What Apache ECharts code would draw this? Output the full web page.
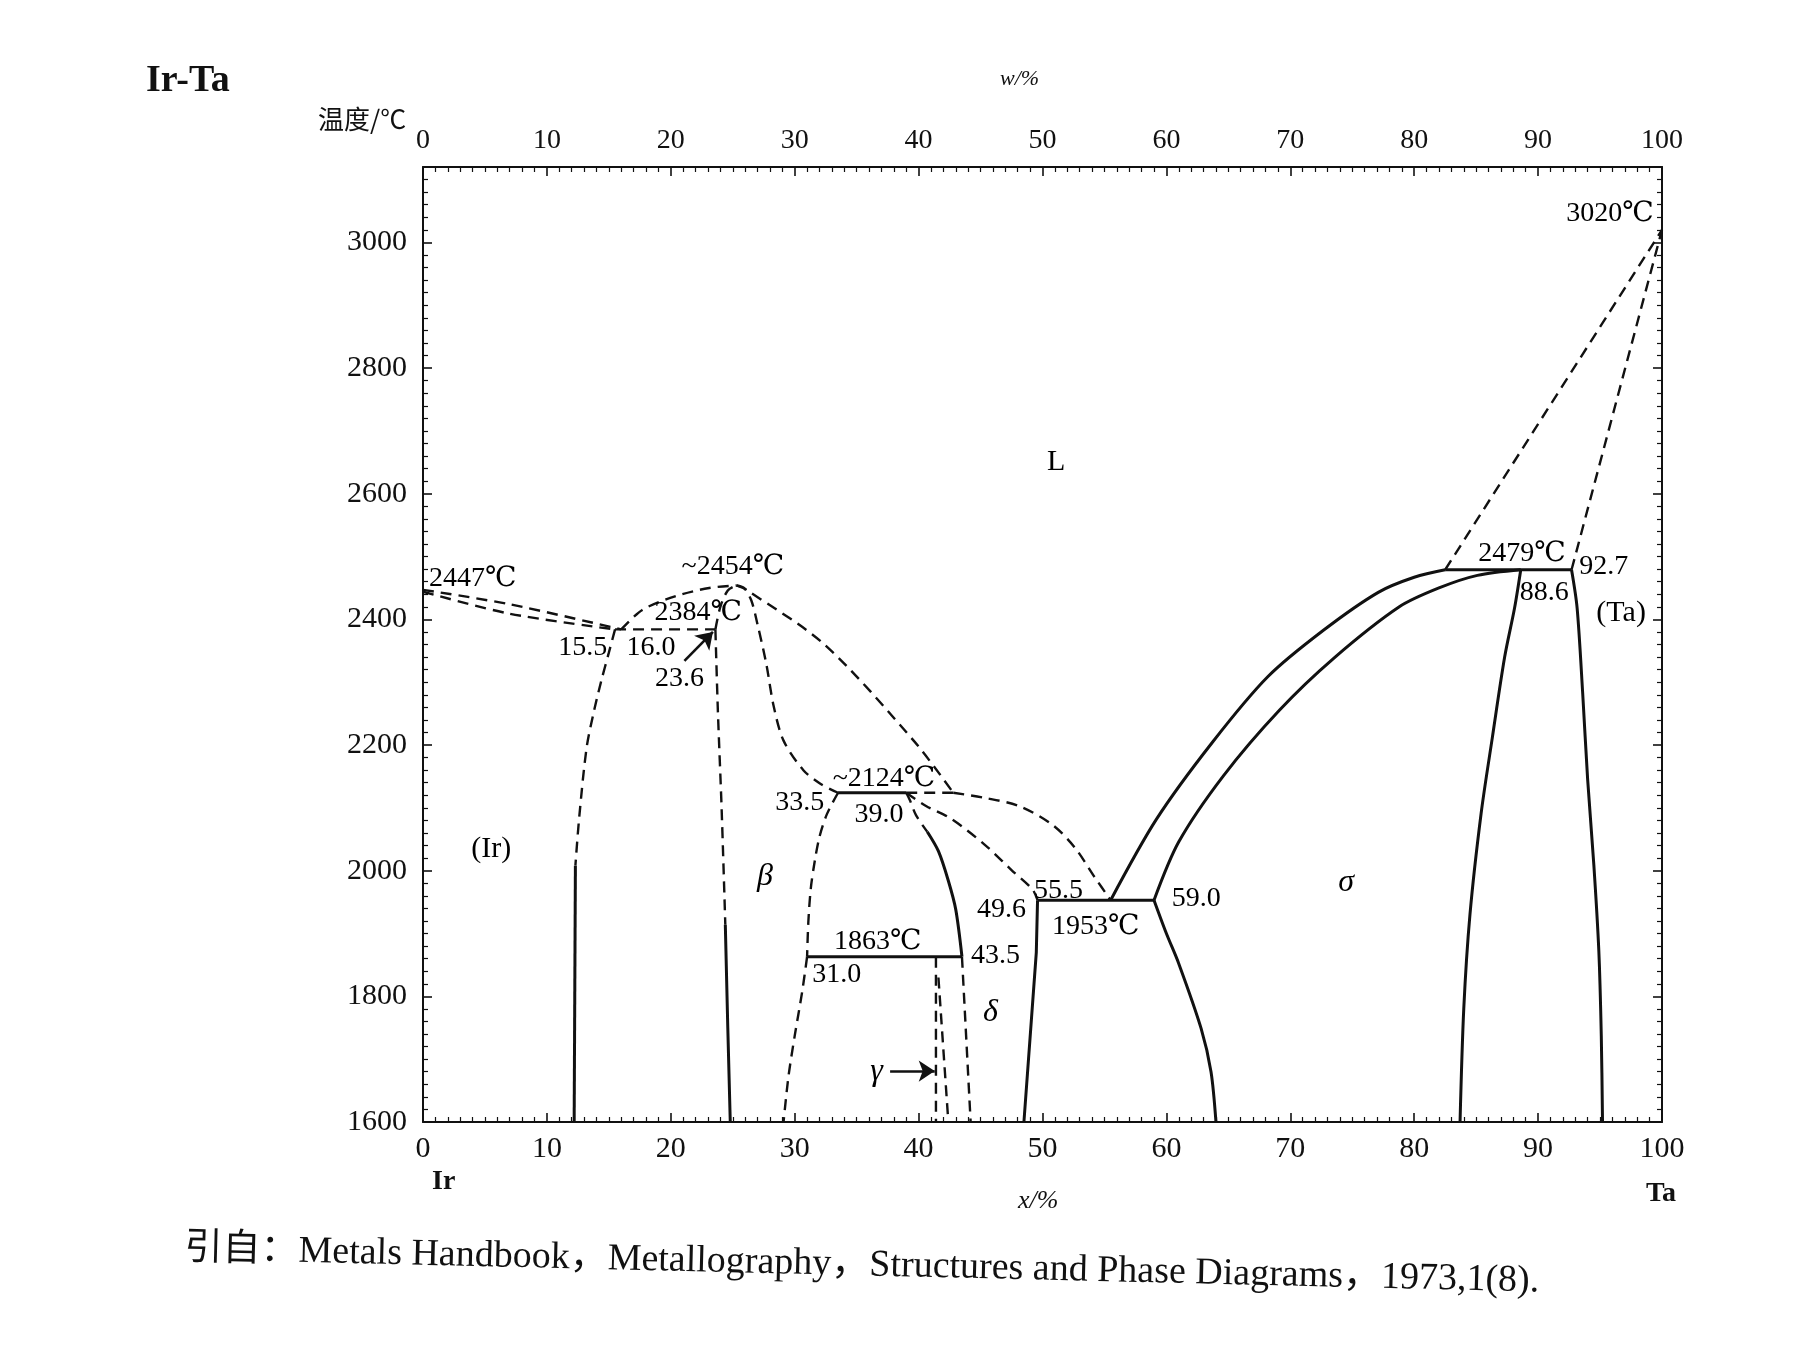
<!DOCTYPE html>
<html><head><meta charset="utf-8">
<script src="https://cdn.jsdelivr.net/npm/echarts@6/dist/echarts.min.js"></script>
<style>html,body{margin:0;padding:0;background:#fff}#c{width:1795px;height:1346px}</style>
</head><body><div id="c"></div>
<script>
// ---- axes / ticks ----
const xTicks = [0,10,20,30,40,50,60,70,80,90,100];      // x/% (atomic, bottom)
const wTicks = [0,10,20,30,40,50,60,70,80,90,100];      // w/% (top)
const tTicks = [1600,1800,2000,2200,2400,2600,2800,3000]; // temperature
const tMax = 3120;

// ---- phase boundaries (x/%, T/℃) ----
const liqIr        = [[0,2447],[7,2424],[16.0,2384]];
const solIr        = [[0,2444],[7,2409],[15.5,2384]];
const eut2384      = [[15.5,2384],[23.6,2384]];
const liqEutBeta   = [[16.0,2384],[17.7,2415],[20.4,2437],[23.1,2450],[25.3,2454]];
const solBetaLeft  = [[23.6,2384],[24.0,2420],[24.6,2446],[25.3,2454]];
const solBetaRight = [[25.3,2454],[25.9,2450],[26.5,2430],[27.0,2392],[27.7,2330],[28.3,2262],[29.1,2207],[30.7,2160],[32.1,2138],[33.5,2124]];
const liqBetaRight = [[25.3,2454],[26.1,2447],[32.4,2360],[39.6,2207],[42.8,2124]];
const irSolvusDash = [[15.5,2384],[15.0,2347],[14.4,2303],[13.8,2254],[13.2,2195],[12.6,2083],[12.3,2008]];
const irSolvusSol  = [[12.3,2008],[12.2,1600]];
const betaLeftDash = [[23.6,2384],[23.8,2254],[24.1,2100],[24.4,1914]];
const betaLeftSol  = [[24.4,1914],[24.6,1750],[24.8,1600]];
const per2124Sol   = [[33.5,2124],[39.0,2124]];
const per2124Dash  = [[39.0,2124],[42.8,2124]];
const liqTo1953    = [[42.8,2124],[45.3,2116],[48.1,2103],[50.8,2073],[52.6,2037],[54.2,1990],[55.5,1953]];
const deltaSolidus = [[39.0,2124],[40.6,2103],[42.6,2083],[45.3,2042],[47.5,2001],[49.2,1970],[49.6,1953]];
const deltaLeftDash= [[39.0,2124],[39.3,2112],[39.8,2088],[40.7,2062]];
const deltaLeftSol = [[40.7,2062],[41.6,2031],[42.4,1984],[43.0,1938],[43.5,1863]];
const deltaLeftLow = [[43.5,1863],[44.2,1600]];
const betaRightHi  = [[33.5,2124],[32.6,2090],[32.0,2054],[31.6,2013],[31.3,1972],[31.1,1918],[31.0,1863]];
const betaRightLow = [[31.0,1863],[30.6,1807],[30.0,1737],[29.5,1673],[29.1,1600]];
const eut1863      = [[31.0,1863],[43.5,1863]];
const gammaLeft    = [[41.4,1863],[41.4,1600]];
const gammaRight   = [[41.6,1830],[42.4,1600]];
const deltaRight   = [[49.6,1953],[49.5,1870],[48.5,1600]];
const eut1953      = [[49.6,1953],[59.0,1953]];
const sigmaLeftLow = [[59.0,1953],[60.0,1900],[61.0,1852],[62.8,1749],[63.6,1680],[64.0,1600]];
const sigmaLiq     = [[55.5,1953],[59.2,2082],[63.7,2204],[68.2,2309],[72.7,2383],[77.1,2443],[80.0,2467],[82.5,2479]];
const sigmaSol     = [[59.0,1953],[61.0,2046],[64.6,2151],[69.1,2255],[73.5,2338],[78.8,2420],[82.0,2450],[85.1,2470],[88.6,2479]];
const per2479      = [[82.5,2479],[92.7,2479]];
const sigmaRight   = [[88.6,2479],[88.1,2418],[87.3,2340],[86.3,2211],[85.4,2091],[84.5,1930],[84.0,1780],[83.7,1600]];
const taLeft       = [[92.7,2479],[93.15,2418],[93.6,2282],[94.0,2145],[94.5,2009],[94.9,1873],[95.1,1737],[95.2,1600]];
const liqTa        = [[82.5,2479],[100,3020]];
const solTa        = [[92.7,2479],[100,3020]];

// ---- annotations (x/%, T/℃, text) ----
const numLabels = [
  [4.0,2465,'2447℃'],[25.0,2484,'~2454℃'],[22.2,2411,'2384℃'],
  [12.9,2355,'15.5'],[18.4,2355,'16.0'],[20.7,2306,'23.6'],
  [37.2,2146,'~2124℃'],[30.4,2109,'33.5'],[36.8,2089,'39.0'],
  [46.7,1938,'49.6'],[51.3,1968,'55.5'],[54.3,1911,'1953℃'],[62.4,1955,'59.0'],
  [36.7,1887,'1863℃'],[33.4,1835,'31.0'],[46.2,1865,'43.5'],
  [88.7,2504,'2479℃'],[95.3,2484,'92.7'],[90.5,2443,'88.6'],[95.8,3046,'3020℃']
];
const phaseLabels = [[51.1,2650,'L'],[5.5,2035,'(Ir)'],[96.7,2410,'(Ta)']];
const greekLabels = [[27.6,1991,'β'],[45.8,1774,'δ'],[74.5,1981,'σ'],[36.6,1681,'γ']];
const arrows = [[[21.1,2334],[23.4,2380]],[[37.7,1681],[41.3,1681]]];

const FONT = '"Liberation Serif","DejaVu Serif","Noto Sans CJK SC",serif';
const INK = '#111';

function seg(data, dashed, smooth){
  return {type:'line', data:data, symbol:'none', silent:true, smooth: smooth?0.3:false,
    lineStyle:{color:INK, width: dashed?2.4:3, type: dashed?[11,7]:'solid'}, z:3};
}
const dashedCurves = [liqIr, solIr, liqEutBeta, solBetaLeft, solBetaRight, liqBetaRight, irSolvusDash, betaLeftDash,
  liqTo1953, deltaSolidus, deltaLeftDash, betaRightHi, betaRightLow];
const dashedStraight = [eut2384, per2124Dash, deltaLeftLow, gammaLeft, gammaRight, liqTa, solTa];
const solidCurves = [deltaLeftSol, sigmaLeftLow, sigmaLiq, sigmaSol, sigmaRight, taLeft];
const solidStraight = [irSolvusSol, betaLeftSol, per2124Sol, eut1863, deltaRight, eut1953, per2479];

const series = [];
dashedCurves.forEach(d=>series.push(seg(d,true,true)));
dashedStraight.forEach(d=>series.push(seg(d,true,false)));
solidCurves.forEach(d=>series.push(seg(d,false,true)));
solidStraight.forEach(d=>series.push(seg(d,false,false)));

function labelSeries(arr, extra){
  return {type:'scatter', symbolSize:0, silent:true, z:5, itemStyle:{opacity:1},
    data: arr.map(a=>({value:[a[0],a[1]], name:a[2]})),
    label:Object.assign({show:true, position:'inside', formatter:'{b}', color:'#000', fontFamily:FONT, fontSize:28}, extra||{})};
}
series.push(labelSeries(numLabels));
series.push(labelSeries(phaseLabels, {fontSize:30}));
series.push(labelSeries(greekLabels, {fontSize:32, fontStyle:'italic'}));
// arrows
series.push({type:'line', data:[], silent:true, markLine:{silent:true, symbol:['none','arrow'], symbolSize:16, animation:false,
  label:{show:false}, lineStyle:{color:INK, width:2.6, type:'solid', opacity:1}, emphasis:{disabled:true},
  data: arrows.map(a=>[{coord:a[0]},{coord:a[1]}])}});

const axisCommon = {
  axisLine:{show:true, onZero:false, lineStyle:{color:INK, width:2}},
  axisTick:{show:true, inside:true, length:9, lineStyle:{color:INK, width:1.6}},
  minorTick:{show:true, splitNumber:10, length:5, lineStyle:{color:INK, width:1.2}},
  splitLine:{show:false}, minorSplitLine:{show:false}
};
const plain = v => String(v);

const option = {
  animation:false,
  backgroundColor:'#fff',
  grid:{left:423, right:133, top:167, bottom:224, containLabel:false},
  xAxis:[
    Object.assign({type:'value', position:'bottom', min:xTicks[0], max:xTicks[xTicks.length-1], interval:xTicks[1]-xTicks[0],
      axisLabel:{color:INK, fontFamily:FONT, fontSize:30, margin:12, formatter:plain}}, axisCommon),
    Object.assign({type:'value', position:'top', min:wTicks[0], max:wTicks[wTicks.length-1], interval:wTicks[1]-wTicks[0],
      axisLabel:{color:INK, fontFamily:FONT, fontSize:28, margin:12, formatter:plain}}, axisCommon)
  ],
  yAxis:[
    Object.assign({type:'value', position:'left', min:tTicks[0], max:tMax, interval:tTicks[1]-tTicks[0],
      axisLabel:{color:INK, fontFamily:FONT, fontSize:30, margin:16, showMaxLabel:false, formatter:plain}}, axisCommon),
    Object.assign({type:'value', position:'right', min:tTicks[0], max:tMax, interval:tTicks[1]-tTicks[0],
      axisLabel:{show:false}}, axisCommon)
  ],
  graphic:[
    {type:'text', left:146, top:62, style:{text:'Ir-Ta', fill:INK, font:'bold 38px '+FONT}},
    {type:'text', left:318, top:106, style:{text:'温度/℃', fill:INK, font:'26px "Noto Sans CJK SC"'}},
    {type:'text', left:1000, top:68, style:{text:'w/%', fill:INK, font:'italic 22px '+FONT}},
    {type:'text', left:1018, top:1188, style:{text:'x/%', fill:INK, font:'italic 26px '+FONT}},
    {type:'text', left:432, top:1168, style:{text:'Ir', fill:INK, font:'bold 28px '+FONT}},
    {type:'text', left:1646, top:1180, style:{text:'Ta', fill:INK, font:'bold 28px '+FONT}},
    {type:'text', x:185, y:1230, rotation:-0.024, style:{text:'引自：Metals Handbook，Metallography，Structures and Phase Diagrams，1973,1(8).', fill:INK, font:'38px '+FONT}}
  ],
  series: series
};
const chart = echarts.init(document.getElementById('c'), null, {renderer:'canvas'});
chart.setOption(option);
</script></body></html>
